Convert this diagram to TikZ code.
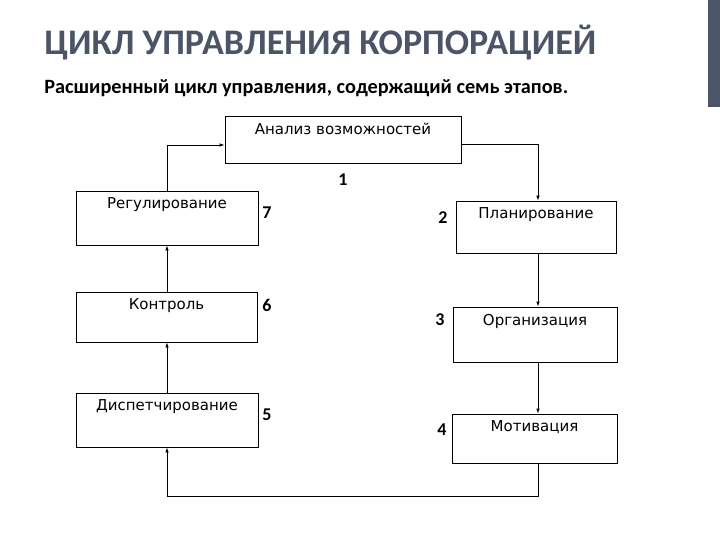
\documentclass[tikz,border=0pt]{standalone}
\usepackage{fontspec}
\setmainfont{Carlito}
\newfontfamily\boxfont{DejaVu Sans}
\usetikzlibrary{arrows.meta}
\definecolor{slate}{HTML}{4B5567}

\begin{document}
\begin{tikzpicture}[x=1pt, y=-1pt, line width=0.8pt, >={Latex[length=5pt,width=3.5pt]},
        stage/.style = {draw, inner sep=0pt, label={[anchor=north, inner sep=2pt, yshift=-5pt, font=\boxfont\fontsize{15}{18}\selectfont]north:#1}},
        num/.style = {font=\bfseries\fontsize{18}{20}\selectfont, inner sep=0pt}]
        \useasboundingbox (0,0) rectangle (720,540);
        \fill[slate] (708,0) rectangle (720,107);
        \node[anchor=west, inner sep=0pt, text=slate, font=\bfseries\fontsize{36}{40}\selectfont] (title) at (44,43) {ЦИКЛ УПРАВЛЕНИЯ КОРПОРАЦИЕЙ};
        \node[anchor=west, inner sep=0pt, font=\bfseries\fontsize{20.3}{24}\selectfont] (sub) at (44,88) {Расширенный цикл управления, содержащий семь этапов.};

        \node[stage=Анализ возможностей, minimum width=236pt, minimum height=47pt] (1) at (343,139.5) {};
        \node[stage=Планирование, minimum width=160pt, minimum height=52pt] (2) at (536,227) {};
        \node[stage=Организация, minimum width=164pt, minimum height=55pt] (3) at (535,334.5) {};
        \node[stage=Мотивация, minimum width=165pt, minimum height=49pt] (4) at (534.5,438.5) {};
        \node[stage=Диспетчирование, minimum width=182pt, minimum height=54pt] (5) at (167,420) {};
        \node[stage=Контроль, minimum width=181pt, minimum height=50pt] (6) at (166.5,317) {};
        \node[stage=Регулирование, minimum width=182pt, minimum height=54pt] (7) at (167,218) {};

        \node[num] (n1) at (343,180) {1};
        \node[num] (n2) at (443,218) {2};
        \node[num] (n3) at (440,320) {3};
        \node[num] (n4) at (442,430) {4};
        \node[num] (n5) at (267,415) {5};
        \node[num] (n6) at (267,305) {6};
        \node[num] (n7) at (267,213) {7};

        \coordinate (r) at (538,144);
        \coordinate (l) at (167,145);
        \coordinate (b) at (0,496);
        \draw[->] (1.east |- r) -| (2.north -| r);
        \draw[->] (2.south -| r) -- (3.north -| r);
        \draw[->] (3.south -| r) -- (4.north -| r);
        \draw[->] (4.south -| r) -- (r |- b) -- (l |- b) -- (5.south -| l);
        \draw[->] (5.north -| l) -- (6.south -| l);
        \draw[->] (6.north -| l) -- (7.south -| l);
        \draw[->] (7.north -| l) -- (l) -- (1.west |- l);
    \end{tikzpicture}
\end{document}
